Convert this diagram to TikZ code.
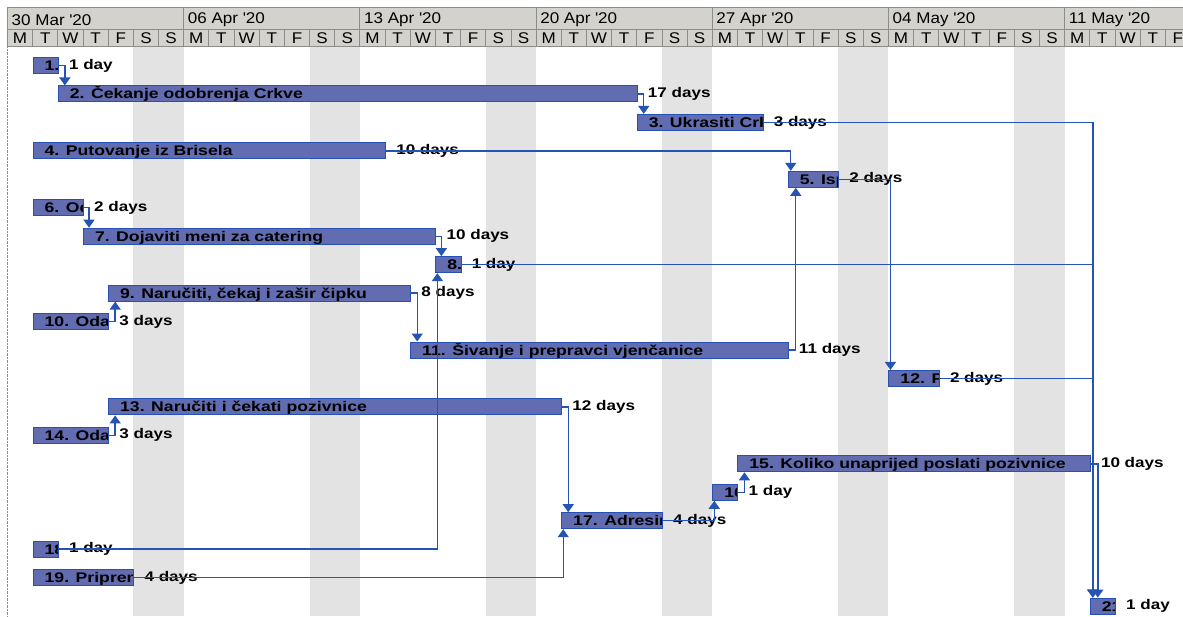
\documentclass[tikz,border=0pt]{standalone}
\usepackage{fontspec}
\setmainfont{Liberation Sans}
\newfontfamily\widefont[FakeStretch=1.26]{Liberation Sans}
\newfontfamily\durfont[FakeStretch=1.22]{Liberation Sans}
\newfontfamily\headfont[FakeStretch=1.1]{Liberation Sans}
\usetikzlibrary{arrows.meta}

\definecolor{barfill}{RGB}{98,108,176}
\definecolor{barline}{RGB}{40,80,180}
\definecolor{linkblue}{RGB}{38,84,178}
\definecolor{headgray}{RGB}{212,210,204}
\definecolor{headline}{RGB}{140,140,140}

\begin{document}
\begin{tikzpicture}[x=1pt, y=-1pt,
  headcell/.style={draw=headline, fill=headgray, line width=0.8pt},
  headtext/.style={font=\headfont\fontsize{15.5}{16}\selectfont, inner sep=0pt},
  weekend/.style={fill=black!11},
  bar/.style={draw=barline, fill=barfill, line width=1pt, minimum height=16pt,
    inner sep=0pt, anchor=west,
    path picture={\node[bartext] at ([xshift=11pt, yshift=-5pt]path picture bounding box.west) {#1};}},
  days/.style={minimum width=#1*25.17pt},
  bartext/.style={anchor=base west, inner sep=0pt, minimum width=0pt, minimum height=0pt,
    font=\widefont\bfseries\fontsize{14}{15}\selectfont},
  durtext/.style={anchor=west, inner sep=0pt, xshift=10pt, font=\durfont\bfseries\fontsize{14}{15}\selectfont},
  link/.style={draw=linkblue, line width=1.4pt, -{Triangle[width=11pt,length=8pt]}},
]
  \useasboundingbox (0,0) rectangle (1183,616);
  \fill[white] (0,0) rectangle (1183,616);
  \clip (0,0) rectangle (1183,616);

  % weekends
  \foreach \w in {0,...,5}
    \fill[weekend] ({7.5+(7*\w+5)*25.17},46) rectangle ++(2*25.17,570);
  \draw[black!45, densely dotted] (7.5,46) -- (7.5,616);

  % timescale
  \foreach \wk [count=\i from 0] in {30 Mar,06 Apr,13 Apr,20 Apr,27 Apr,04 May,11 May} {
    \draw[headcell] ({7.5+7*\i*25.17},7) rectangle ++(7*25.17,22);
    \node[headtext, anchor=west] (wk\i) at ({7.5+7*\i*25.17+4},20) {\wk\ \textquotesingle20};
  }
  \foreach \l [count=\d from 0] in {M,T,W,T,F,S,S,M,T,W,T,F,S,S,M,T,W,T,F,S,S,M,T,W,T,F,S,S,
                                    M,T,W,T,F,S,S,M,T,W,T,F,S,S,M,T,W,T,F} {
    \draw[headcell] ({7.5+\d*25.17},29) rectangle ++(25.17,17);
    \node[headtext] (dy\d) at ({7.5+(\d+0.5)*25.17},38) {\l};
  }
  \draw[headcell] ({7.5+47*25.17},29) rectangle ++(25.17,17);

  % tasks: (start day, row)
  \begin{scope}[shift={(7.5,37.05)}, x=25.17pt, y=-28.45pt]
    \node[bar={1.}, days=1] (t1) at (1,1) {};
    \node[bar={2. Čekanje odobrenja Crkve}, days=23] (t2) at (2,2) {};
    \node[bar={3. Ukrasiti Crk}, days=5] (t3) at (25,3) {};
    \node[bar={4. Putovanje iz Brisela}, days=14] (t4) at (1,4) {};
    \node[bar={5. Isp}, days=2] (t5) at (31,5) {};
    \node[bar={6. Od}, days=2] (t6) at (1,6) {};
    \node[bar={7. Dojaviti meni za catering}, days=14] (t7) at (3,7) {};
    \node[bar={8.}, days=1] (t8) at (17,8) {};
    \node[bar={9. Naručiti, čekaj i zašir čipku}, days=12] (t9) at (4,9) {};
    \node[bar={10. Odab}, days=3] (t10) at (1,10) {};
    \node[bar={11. Šivanje i prepravci vjenčanice}, days=15] (t11) at (16,11) {};
    \node[bar={12. P}, days=2] (t12) at (35,12) {};
    \node[bar={13. Naručiti i čekati pozivnice}, days=18] (t13) at (4,13) {};
    \node[bar={14. Odab}, days=3] (t14) at (1,14) {};
    \node[bar={15. Koliko unaprijed poslati pozivnice}, days=14] (t15) at (29,15) {};
    \node[bar={16}, days=1] (t16) at (28,16) {};
    \node[bar={17. Adresir}, days=4] (t17) at (22,17) {};
    \node[bar={18}, days=1] (t18) at (1,18) {};
    \node[bar={19. Priprem}, days=4] (t19) at (1,19) {};
    \node[bar={21}, days=1] (t21) at (43,20) {};
  \end{scope}

  % durations
  \node[durtext] (d1) at (t1.east) {1 day};
  \node[durtext] (d2) at (t2.east) {17 days};
  \node[durtext] (d3) at (t3.east) {3 days};
  \node[durtext] (d4) at (t4.east) {10 days};
  \node[durtext] (d5) at (t5.east) {2 days};
  \node[durtext] (d6) at (t6.east) {2 days};
  \node[durtext] (d7) at (t7.east) {10 days};
  \node[durtext] (d8) at (t8.east) {1 day};
  \node[durtext] (d9) at (t9.east) {8 days};
  \node[durtext] (d10) at (t10.east) {3 days};
  \node[durtext] (d11) at (t11.east) {11 days};
  \node[durtext] (d12) at (t12.east) {2 days};
  \node[durtext] (d13) at (t13.east) {12 days};
  \node[durtext] (d14) at (t14.east) {3 days};
  \node[durtext] (d15) at (t15.east) {10 days};
  \node[durtext] (d16) at (t16.east) {1 day};
  \node[durtext] (d17) at (t17.east) {4 days};
  \node[durtext] (d18) at (t18.east) {1 day};
  \node[durtext] (d19) at (t19.east) {4 days};
  \node[durtext] (d21) at (t21.east) {1 day};

  % links
  \draw[link] (t1.east) -| ([xshift=7pt]t2.north west);
  \draw[link] (t2.east) -| ([xshift=7pt]t3.north west);
  \draw[link] (t3.east) -| ([xshift=3pt]t21.north west);
  \draw[link] (t4.east) -| ([xshift=3pt]t5.north west);
  \draw[link] (t5.east) -| ([xshift=2pt]t12.north west);
  \draw[link] (t6.east) -| ([xshift=6pt]t7.north west);
  \draw[link] (t7.east) -| ([xshift=6pt]t8.north west);
  \draw[link] (t8.east) -| ([xshift=3pt]t21.north west);
  \draw[link] (t9.east) -| ([xshift=7pt]t11.north west);
  \draw[link] (t10.east) -| ([xshift=7pt]t9.south west);
  \draw[link] (t11.east) -| ([xshift=8pt]t5.south west);
  \draw[link] (t12.east) -| ([xshift=3pt]t21.north west);
  \draw[link] (t13.east) -| ([xshift=7pt]t17.north west);
  \draw[link] (t14.east) -| ([xshift=7pt]t13.south west);
  \draw[link] (t15.east) -| ([xshift=8pt]t21.north west);
  \draw[link] (t16.east) -| ([xshift=7pt]t15.south west);
  \draw[link] (t17.east) -| ([xshift=2pt]t16.south west);
  \draw[link] (t18.east) -| ([xshift=2pt]t8.south west);
  \draw[link] (t19.east) -| ([xshift=2pt]t17.south west);
\end{tikzpicture}
\end{document}
